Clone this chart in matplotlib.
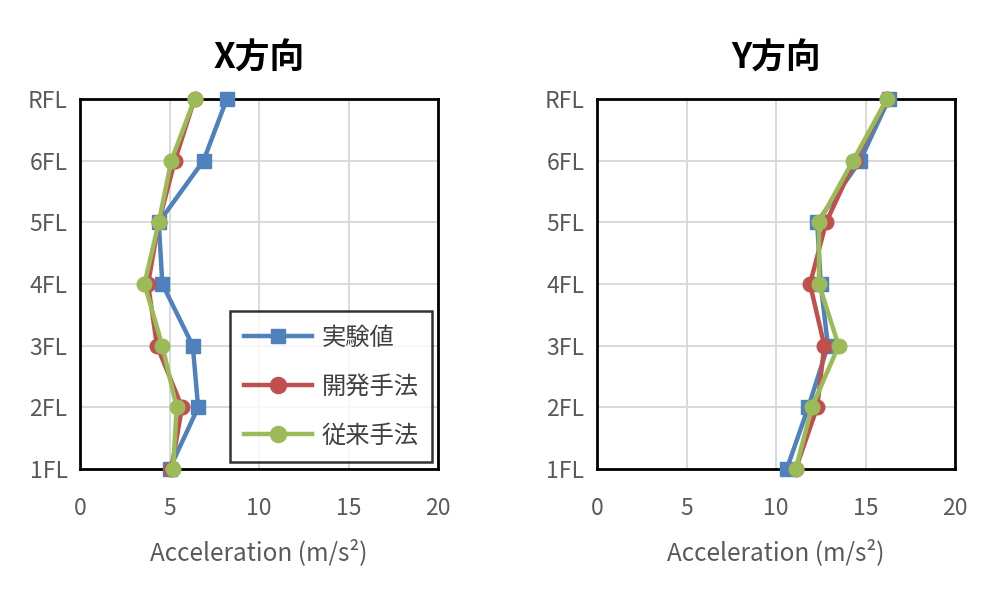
import matplotlib
matplotlib.use("Agg")
import matplotlib.pyplot as plt

plt.rcParams['font.family'] = ['Noto Sans CJK JP', 'DejaVu Sans']

floors = ["1FL", "2FL", "3FL", "4FL", "5FL", "6FL", "RFL"]
series_names = ["実験値", "開発手法", "従来手法"]

# X direction (1FL -> RFL)
x_exp = [5.0, 6.6, 6.3, 4.6, 4.4, 6.9, 8.2]
x_dev = [5.1, 5.7, 4.3, 3.8, 4.4, 5.3, 6.4]
x_old = [5.2, 5.4, 4.6, 3.6, 4.4, 5.1, 6.4]

# Y direction (1FL -> RFL)
y_exp = [10.6, 11.8, 12.9, 12.5, 12.3, 14.7, 16.3]
y_dev = [11.1, 12.3, 12.7, 11.9, 12.8, 14.4, 16.2]
y_old = [11.1, 12.0, 13.5, 12.4, 12.4, 14.3, 16.2]

colors = ["#4F81BD", "#C0504D", "#9BBB59"]
markers = ["s", "o", "o"]
grey = "#595959"

fig = plt.figure(figsize=(10, 6.01), dpi=100)
ax1 = fig.add_axes([0.08, 0.2196, 0.358, 0.6156])
ax2 = fig.add_axes([0.597, 0.2196, 0.358, 0.6156])

pos = list(range(len(floors)))

for ax, data, title in [(ax1, [x_exp, x_dev, x_old], "X方向"),
                        (ax2, [y_exp, y_dev, y_old], "Y方向")]:
    for vals, name, c, m in zip(data, series_names, colors, markers):
        ax.plot(vals, pos, color=c, marker=m, markersize=10.5 if m == "o" else 9.5,
                linewidth=3.2, label=name, clip_on=False, zorder=3)
    ax.set_xlim(0, 20)
    ax.set_ylim(0, 6)
    ax.set_xticks([0, 5, 10, 15, 20])
    ax.set_yticks(pos)
    ax.set_yticklabels(floors)
    ax.grid(True, color="#D9D9D9", linewidth=1.4)
    ax.set_axisbelow(True)
    for sp in ax.spines.values():
        sp.set_linewidth(2)
        sp.set_color("black")
    ax.tick_params(length=0, labelsize=16.5, colors=grey)
    ax.tick_params(axis="x", pad=20)
    ax.tick_params(axis="y", pad=9)
    ax.set_xlabel("Acceleration (m/s²)", fontsize=17.5, color=grey, labelpad=14)
    ax.set_title(title, fontsize=25, fontweight="bold", pad=22)

leg = ax1.legend(loc="lower right", bbox_to_anchor=(0.983, 0.018), fontsize=17.5,
                 frameon=True, fancybox=False, edgecolor="black",
                 handlelength=2.8, handletextpad=0.4, labelspacing=0.95,
                 borderpad=0.55, borderaxespad=0, markerscale=1.1)
leg.get_frame().set_linewidth(1.8)
for t in leg.get_texts():
    t.set_color("#404040")

fig.savefig("out.png", dpi=100)
